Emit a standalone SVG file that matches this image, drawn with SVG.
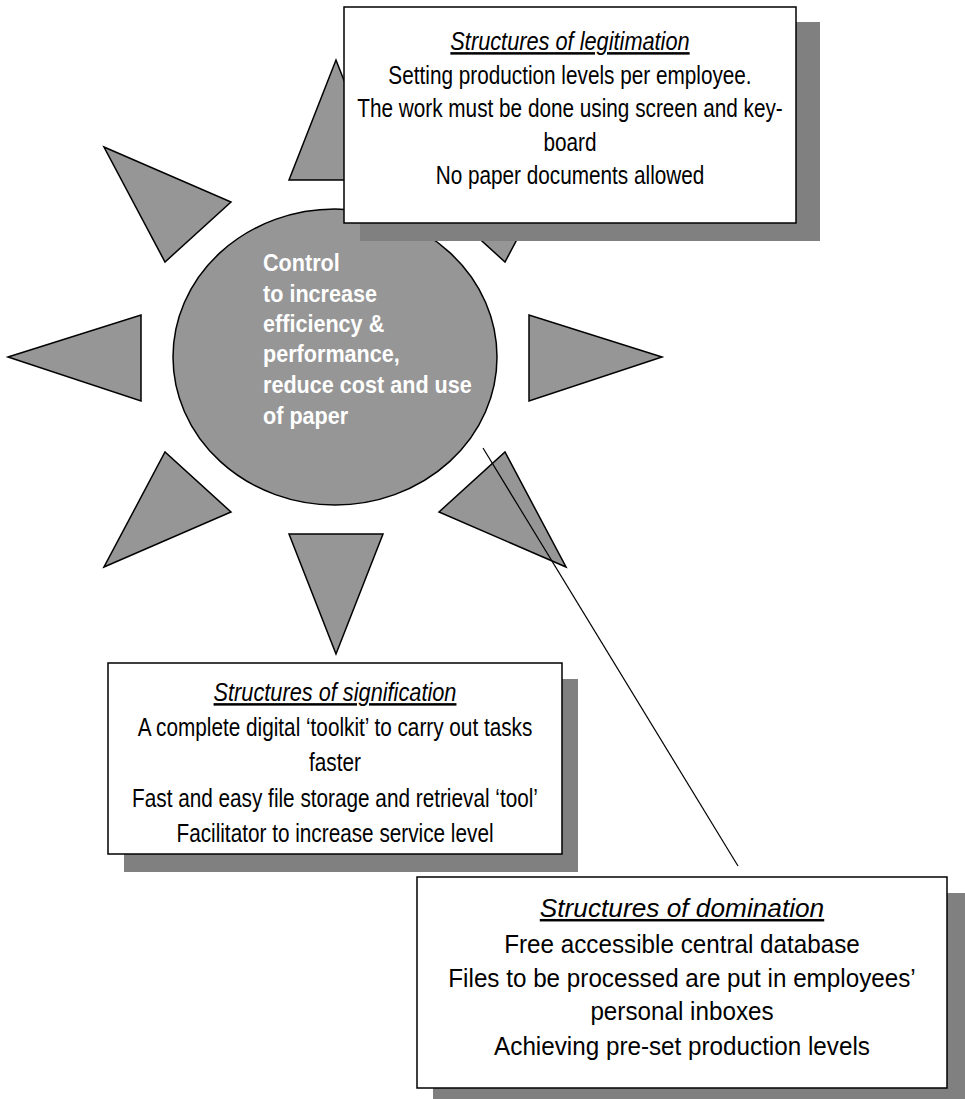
<svg xmlns="http://www.w3.org/2000/svg" width="965" height="1099" viewBox="0 0 965 1099">
  <style>
    .ray { fill: #969696; stroke: #000; stroke-width: 1.5; stroke-linejoin: miter; }
    .hub { fill: #969696; stroke: #000; stroke-width: 1.5; }
    .hubtxt { font-family: "Liberation Sans", Arial, sans-serif; font-size: 24px; font-weight: bold; fill: #fff; }
    .shadow { fill: #808080; }
    .box { fill: #fff; stroke: #000; stroke-width: 1.5; }
    .txt { font-family: "Liberation Sans", Arial, sans-serif; font-size: 25px; fill: #000; text-anchor: middle; }
    .ttl { font-style: italic; text-decoration: underline; }
    .link { stroke: #000; stroke-width: 1.2; fill: none; }
  </style>

  <!-- sun: rays around the central hub -->
  <g id="rays">
    <polygon class="ray" points="336,60 289,180 383,180"/>
    <polygon class="ray" points="566,147 439,202 505,262"/>
    <polygon class="ray" points="104,147 231,202 165,262"/>
    <polygon class="ray" points="8,357 141,315 141,401"/>
    <polygon class="ray" points="662,357 529,315 529,401"/>
    <polygon class="ray" points="104,567 231,512 165,452"/>
    <polygon class="ray" points="566,567 439,512 505,452"/>
    <polygon class="ray" points="336,654 289,534 383,534"/>
  </g>

  <g id="hub">
    <ellipse class="hub" cx="335" cy="357" rx="162" ry="148"/>
    <g transform="translate(263 0) scale(0.9 1)">
      <text class="hubtxt" x="0" y="271">Control</text>
      <text class="hubtxt" x="0" y="302">to increase</text>
      <text class="hubtxt" x="0" y="332">efficiency &amp;</text>
      <text class="hubtxt" x="0" y="362">performance,</text>
      <text class="hubtxt" x="0" y="393">reduce cost and use</text>
      <text class="hubtxt" x="0" y="424">of paper</text>
    </g>
  </g>

  <g id="connectors">
    <line class="link" x1="483" y1="448" x2="738" y2="866"/>
  </g>

  <g id="legitimation">
    <rect class="shadow" x="360" y="22" width="460" height="219"/>
    <rect class="box" x="344" y="7" width="452" height="216"/>
    <g transform="translate(570 0) scale(0.87 1)">
      <text class="txt ttl" x="0" y="50">Structures of legitimation</text>
    </g>
    <g transform="translate(570 0) scale(0.83 1)">
      <text class="txt" x="0" y="84">Setting production levels per employee.</text>
      <text class="txt" x="0" y="117">The work must be done using screen and key-</text>
      <text class="txt" x="0" y="151">board</text>
      <text class="txt" x="0" y="184">No paper documents allowed</text>
    </g>
  </g>

  <g id="signification">
    <rect class="shadow" x="124" y="679" width="454" height="193"/>
    <rect class="box" x="108" y="663" width="454" height="191"/>
    <g transform="translate(335 0) scale(0.87 1)">
      <text class="txt ttl" x="0" y="701">Structures of signification</text>
    </g>
    <g transform="translate(335 0) scale(0.83 1)">
      <text class="txt" x="0" y="736">A complete digital ‘toolkit’ to carry out tasks</text>
      <text class="txt" x="0" y="771">faster</text>
      <text class="txt" x="0" y="807">Fast and easy file storage and retrieval ‘tool’</text>
      <text class="txt" x="0" y="842">Facilitator to increase service level</text>
    </g>
  </g>

  <g id="domination">
    <rect class="shadow" x="433" y="893" width="532" height="206"/>
    <rect class="box" x="417" y="877" width="530" height="211"/>
    <g transform="translate(682 0) scale(1.05 1)">
      <text class="txt ttl" x="0" y="917">Structures of domination</text>
    </g>
    <g transform="translate(682 0) scale(0.97 1)">
      <text class="txt" x="0" y="953">Free accessible central database</text>
      <text class="txt" x="0" y="987">Files to be processed are put in employees’</text>
      <text class="txt" x="0" y="1020">personal inboxes</text>
      <text class="txt" x="0" y="1055">Achieving pre-set production levels</text>
    </g>
  </g>
</svg>
